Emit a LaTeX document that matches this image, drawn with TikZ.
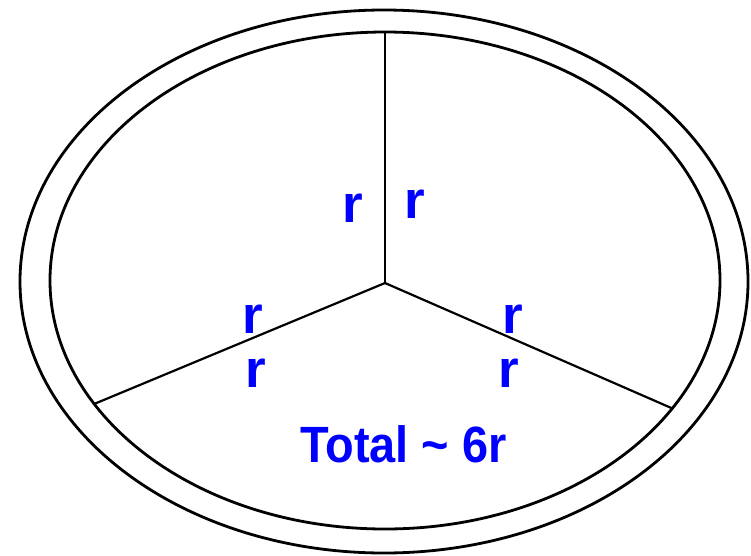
\documentclass[tikz,border=0pt]{standalone}
\usepackage{fontspec}
\setmainfont{Liberation Sans}
\usepackage{tikz}
\usetikzlibrary{shapes.geometric}

\begin{document}
\begin{tikzpicture}[
    x=1pt, y=-1pt,
    ring/.style={ellipse, draw=black, line width=2.8pt, inner sep=0pt, outer sep=0pt},
    spoke/.style={draw=black, line width=2.2pt},
    rlabel/.style={anchor=base, inner sep=0pt, text=blue, font=\fontsize{53}{53}\selectfont\bfseries}
]
\useasboundingbox (0,0) rectangle (751,555);

% Two rings
\node[ring, minimum width=728pt, minimum height=543pt] (outer) at (384,281.5) {};
\node[ring, minimum width=670pt, minimum height=497pt] (inner) at (385,280.5) {};

% Hub and spokes
\coordinate (hub) at (385,283);
\draw[spoke] (hub) -- (inner.north);
\draw[spoke] (hub) -- (inner.203.6);
\draw[spoke] (hub) -- (inner.336.1);

% Labels along the spokes
\node[rlabel] (rtl) at (353,222) {r};
\node[rlabel] (rtr) at (415,218) {r};
\node[rlabel] (rla) at (253,333) {r};
\node[rlabel] (rlb) at (256,387) {r};
\node[rlabel] (rra) at (513,333) {r};
\node[rlabel] (rrb) at (509,387) {r};

% Sum
\node[rlabel, font=\fontsize{51}{51}\selectfont\bfseries] (total) at (403.5,462) {\scalebox{0.92}[1]{Total \char`~{} 6r}};

\end{tikzpicture}
\end{document}
